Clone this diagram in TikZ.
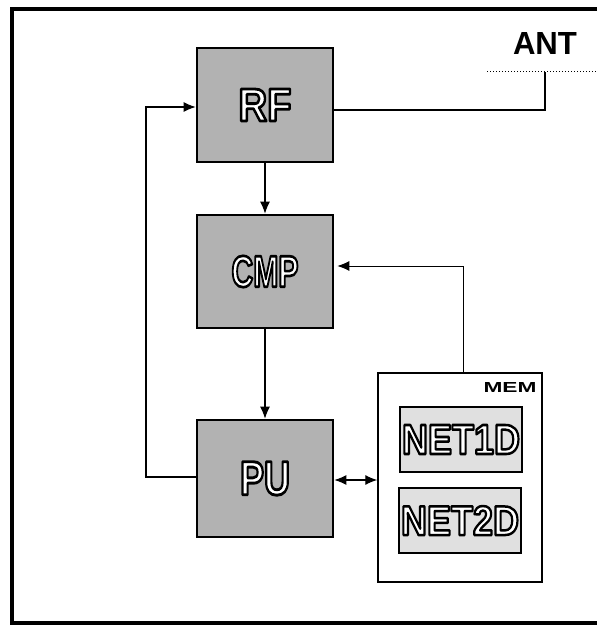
\documentclass[tikz,border=0pt]{standalone}
\usepackage{fontspec}
\setmainfont{Liberation Sans}
\usepackage{graphicx}
\usetikzlibrary{arrows.meta}
\newcommand{\olabel}[3]{\resizebox{#1}{#2}{\bfseries\textcolor{white}{\special{pdf:literal direct 2 Tr 0.6 w 0 G 1 j 1 J}#3\special{pdf:literal direct 0 Tr}}}}
\begin{document}
\begin{tikzpicture}[x=1pt,y=-1pt,
  blockbox/.style={draw=black,line width=2.6pt,fill=black!30,minimum width=136pt,minimum height=114pt,inner sep=0pt},
  netbox/.style={draw=black,line width=2.6pt,fill=black!12,minimum width=122pt,minimum height=65pt,inner sep=0pt},
  membox/.style={draw=black,line width=1.4pt,fill=white,minimum width=164pt,minimum height=209pt,inner sep=0pt},
  conn/.style={line width=1.2pt},
  tip/.style={-{Latex[length=12pt,width=10pt]}},
  every node/.style={inner sep=0pt}]
\useasboundingbox (0,0) rectangle (597,628);
% outer frame
\draw[line width=3.5pt] (597,9) -- (12,9) -- (12,623) -- (597,623);
% blocks
\node[blockbox] (RF) at (265,105) {\olabel{53pt}{32pt}{RF}};
\node[blockbox,minimum height=113pt] (CMP) at (265,271.5) {\olabel{67pt}{31pt}{CMP}};
\node[blockbox,minimum height=117pt] (PU) at (265,478.5) {\olabel{50pt}{33pt}{PU}};
\node[membox] (MEM) at (460,477.5) {};
\node[anchor=north east] (MEML) at ([xshift=-6pt,yshift=-10pt]MEM.north east) {\resizebox{53pt}{10pt}{\bfseries MEM}};
\node[netbox] (N1) at (461,439.5) {\olabel{118pt}{29pt}{NET1D}};
\node[netbox] (N2) at (460,520.5) {\olabel{118pt}{29pt}{NET2D}};
% antenna
\node (ANT) at (545,44) {\resizebox{64pt}{22pt}{\bfseries ANT}};
\coordinate (antL) at (487,72);
\coordinate (antR) at (597,72);
\coordinate (antJ) at (545,72);
\draw[line width=1pt,dotted] (antL) -- (antR);
% connectors
\draw[conn] (RF.east |- 0,110) -- (545,110) -- (antJ);
\draw[conn,tip] (RF.south) -- (CMP.north);
\draw[conn,tip] (CMP.south) -- (PU.north);
\draw[conn,tip] (PU.west |- 0,477) -- (146,477) -- (146,107) -- (RF.west |- 0,107);
\draw[conn,line width=0.9pt,tip,shorten >=3pt] (463,0 |- MEM.north) -- (463,266) -- (CMP.east |- 0,266);
\draw[conn,{Latex[length=12pt,width=10pt]}-{Latex[length=12pt,width=10pt]}] (PU.east |- 0,480) -- (MEM.west |- 0,480);
\end{tikzpicture}
\end{document}
